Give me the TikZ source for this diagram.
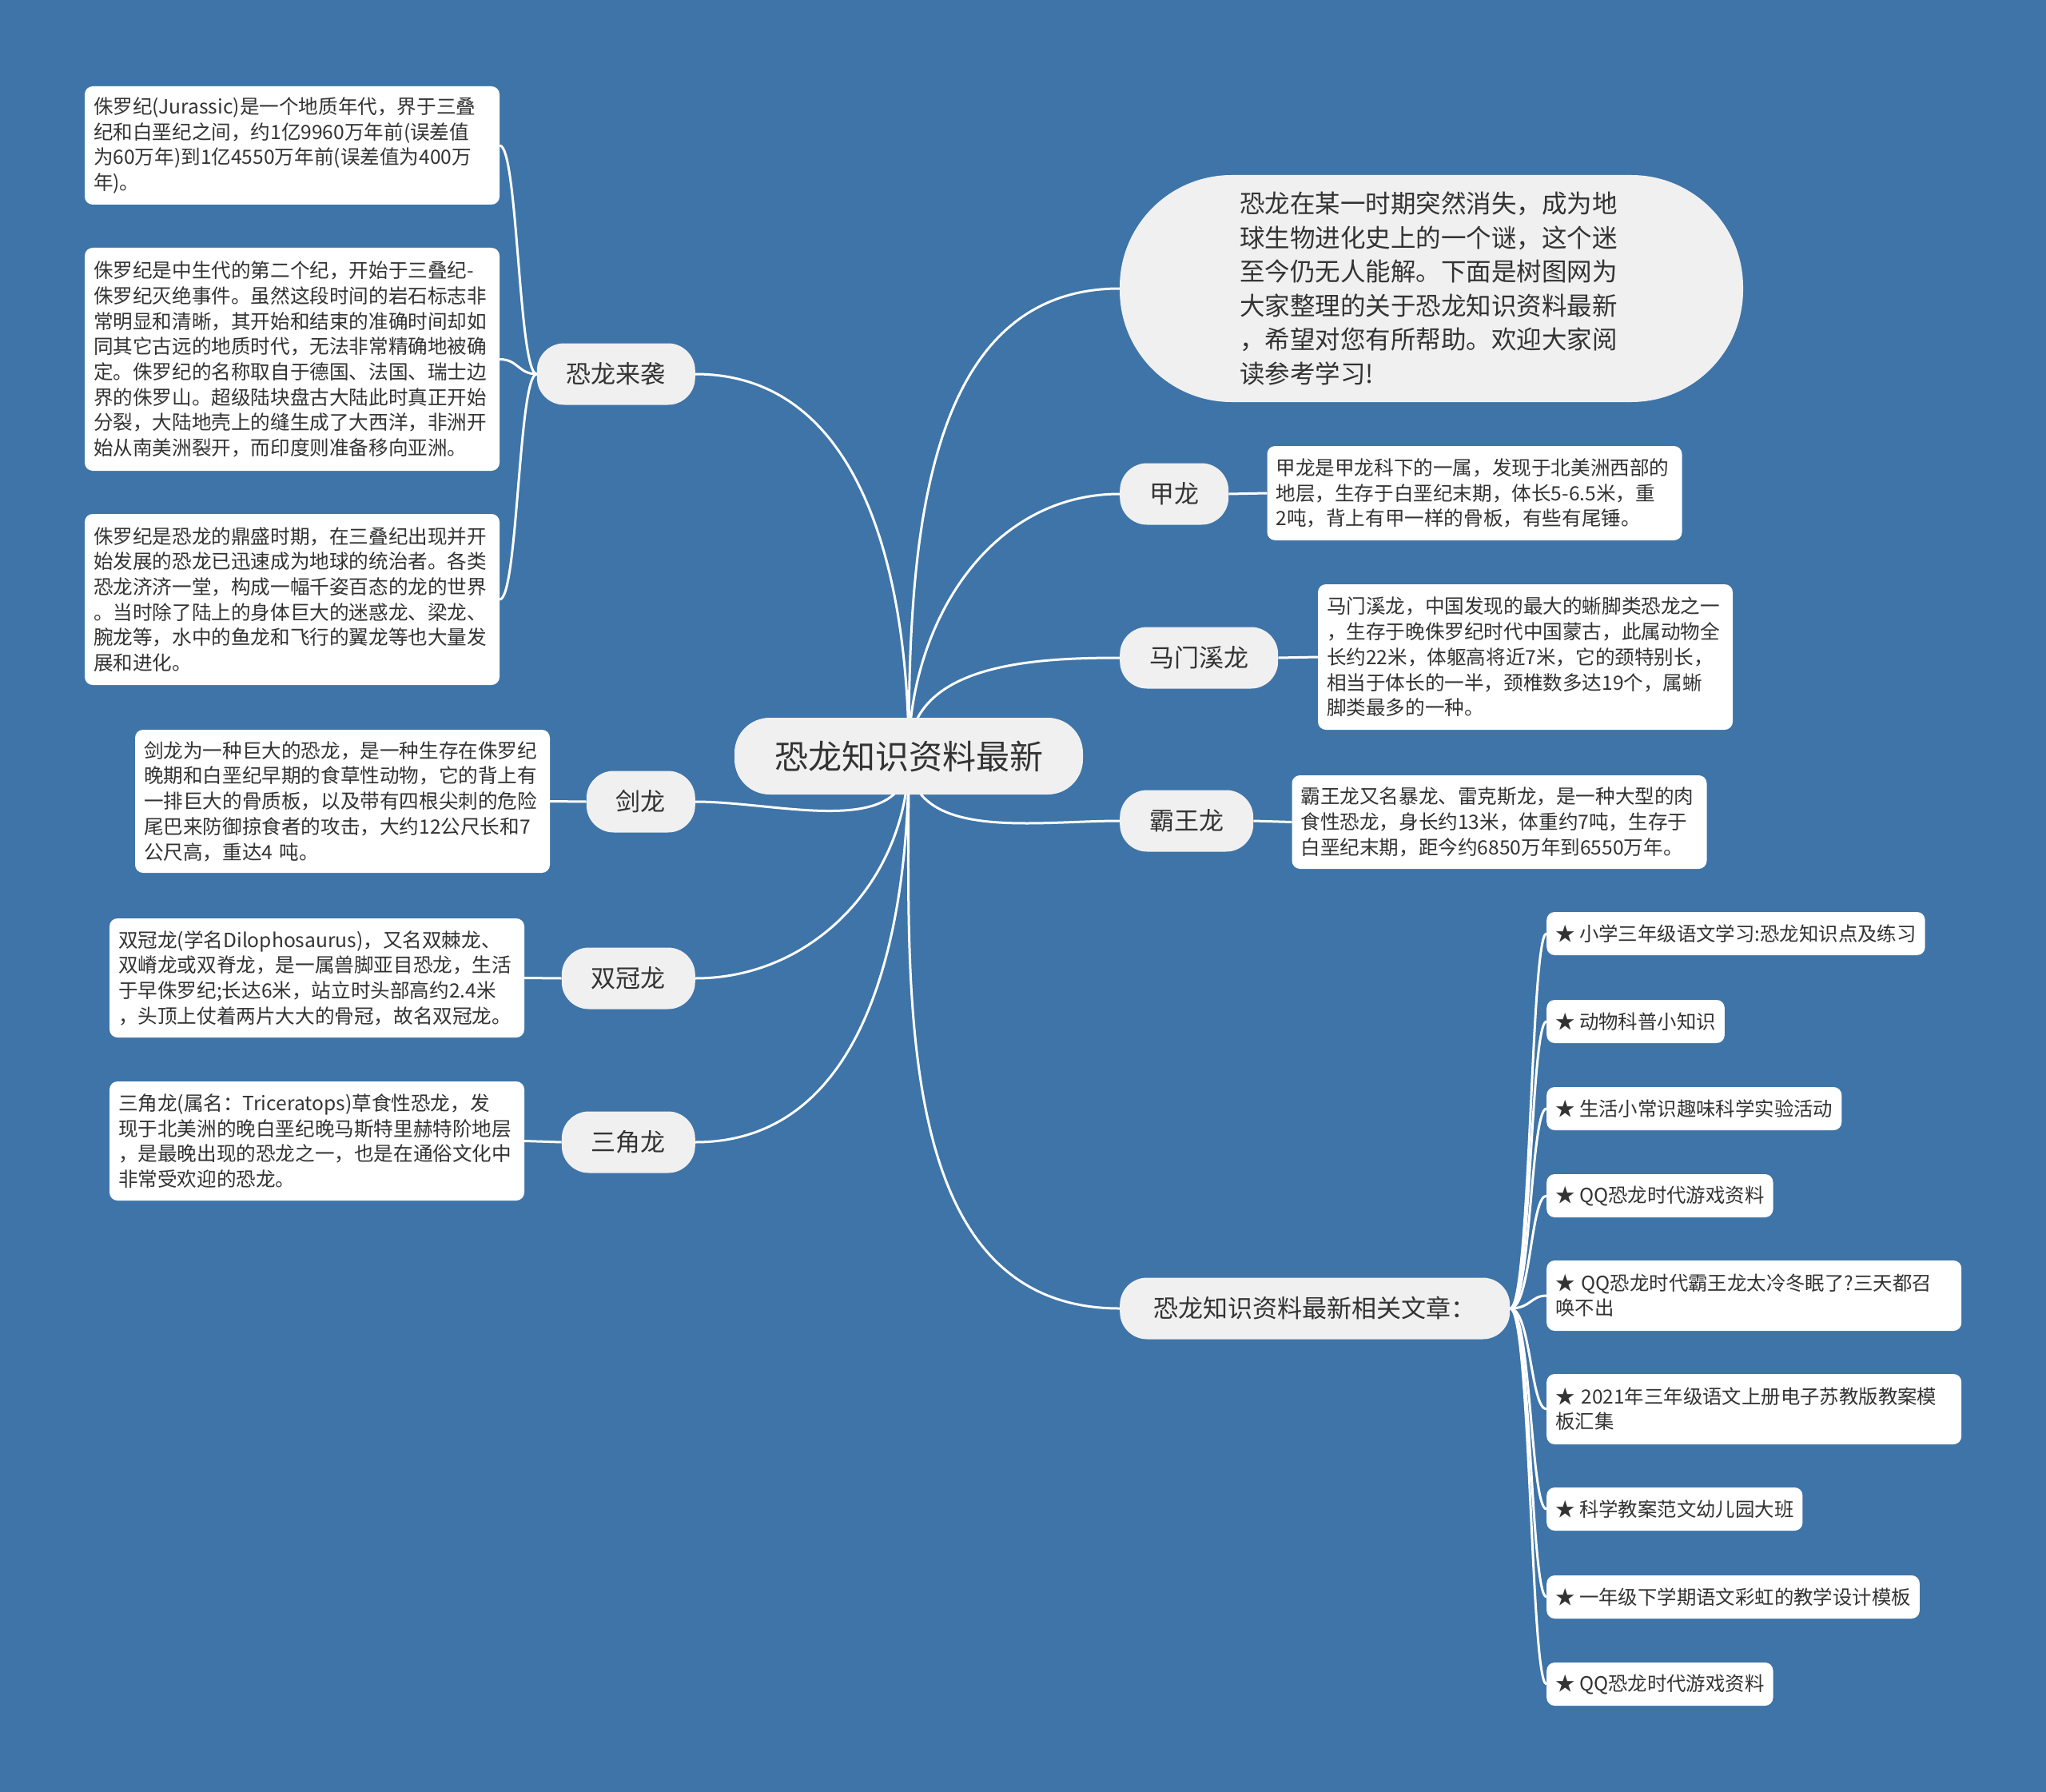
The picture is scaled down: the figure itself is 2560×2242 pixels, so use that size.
\documentclass[tikz,border=0pt]{standalone}
\usepackage{fontspec}
\setmainfont{Noto Sans CJK SC}
\usetikzlibrary{positioning,calc}
\definecolor{bgblue}{HTML}{3E74A7}
\definecolor{pillgray}{HTML}{F0F0F0}
\definecolor{inkgray}{HTML}{333333}
\pgfdeclarelayer{bg}
\pgfdeclarelayer{edges}
\pgfsetlayers{bg,edges,main}

\begin{document}
\begin{tikzpicture}[x=1pt, y=-1pt,
    root/.style={fill=pillgray, rounded corners=44pt, minimum width=436pt, minimum height=96pt,
                 text=inkgray, font=\fontsize{42}{50}\selectfont},
    topic/.style={fill=pillgray, rounded corners=34pt, minimum height=77pt, inner xsep=37pt,
                  inner ysep=0pt, text=inkgray, font=\fontsize{31}{40}\selectfont},
    leaf/.style={fill=white, rounded corners=10pt, text width=497pt, inner xsep=11pt, inner ysep=0pt,
                 align=left, text=inkgray, font=\fontsize{24.6}{31.7}\selectfont},
    article/.style={fill=white, rounded corners=10pt, inner xsep=11pt, inner ysep=0pt, minimum height=54pt,
                    anchor=west, align=left, text=inkgray, font=\fontsize{24.4}{31}\selectfont},
    link/.style={draw=white, line width=3pt}
  ]

% --- canvas ---
\begin{pgfonlayer}{bg}
  \fill[bgblue] (0,0) rectangle (2560,2242);
\end{pgfonlayer}
\useasboundingbox (0,0) rectangle (2560,2242);

% --- centre and main topics ---
\node[root] (root) at (1137,946) {恐龙知识资料最新};

\node[fill=pillgray, rounded corners=140pt, minimum width=780pt, minimum height=284pt,
      text width=480pt, align=left, text=inkgray, font=\fontsize{31.5}{42.5}\selectfont]
      (intro) at (1791,361) {恐龙在某一时期突然消失，成为地\\
球生物进化史上的一个谜，这个迷\\
至今仍无人能解。下面是树图网为\\
大家整理的关于恐龙知识资料最新\\
，希望对您有所帮助。欢迎大家阅\\
读参考学习!};

\node[topic, anchor=east] (attack)     at (870,468)  {恐龙来袭};
\node[topic, anchor=east] (jianlong)   at (870,1003) {剑龙};
\node[topic, anchor=east] (shuangguan) at (870,1224) {双冠龙};
\node[topic, anchor=east] (sanjiao)    at (870,1429) {三角龙};
\node[topic, anchor=west] (jialong)    at (1401,618) {甲龙};
\node[topic, anchor=west] (mamenxi)    at (1401,823) {马门溪龙};
\node[topic, anchor=west] (bawang)     at (1401,1027) {霸王龙};
\node[topic, anchor=west, minimum width=488pt] (related) at (1401,1637) {恐龙知识资料最新相关文章：};

% --- left text boxes ---
\node[leaf, minimum height=148pt] (jura1) at (365.5,182) {侏罗纪(Jurassic)是一个地质年代，界于三叠\\
纪和白垩纪之间，约1亿9960万年前(误差值\\
为60万年)到1亿4550万年前(误差值为400万\\
年)。};
\node[leaf, minimum height=279pt] (jura2) at (365.5,449.5) {侏罗纪是中生代的第二个纪，开始于三叠纪-\\
侏罗纪灭绝事件。虽然这段时间的岩石标志非\\
常明显和清晰，其开始和结束的准确时间却如\\
同其它古远的地质时代，无法非常精确地被确\\
定。侏罗纪的名称取自于德国、法国、瑞士边\\
界的侏罗山。超级陆块盘古大陆此时真正开始\\
分裂，大陆地壳上的缝生成了大西洋，非洲开\\
始从南美洲裂开，而印度则准备移向亚洲。};
\node[leaf, minimum height=214pt] (jura3) at (365.5,750) {侏罗纪是恐龙的鼎盛时期，在三叠纪出现并开\\
始发展的恐龙已迅速成为地球的统治者。各类\\
恐龙济济一堂，构成一幅千姿百态的龙的世界\\
。当时除了陆上的身体巨大的迷惑龙、梁龙、\\
腕龙等，水中的鱼龙和飞行的翼龙等也大量发\\
展和进化。};
\node[leaf, minimum height=179pt] (jianlongtxt) at (428.5,1002.5) {剑龙为一种巨大的恐龙，是一种生存在侏罗纪\\
晚期和白垩纪早期的食草性动物，它的背上有\\
一排巨大的骨质板，以及带有四根尖刺的危险\\
尾巴来防御掠食者的攻击，大约12公尺长和7\\
公尺高，重达4 吨。};
\node[leaf, minimum height=149pt] (shuangguantxt) at (396.5,1223.5) {双冠龙(学名Dilophosaurus)，又名双棘龙、\\
双嵴龙或双脊龙，是一属兽脚亚目恐龙，生活\\
于早侏罗纪;长达6米，站立时头部高约2.4米\\
，头顶上仗着两片大大的骨冠，故名双冠龙。};
\node[leaf, minimum height=149pt] (sanjiaotxt) at (396.5,1427.5) {三角龙(属名：Triceratops)草食性恐龙，发\\
现于北美洲的晚白垩纪晚马斯特里赫特阶地层\\
，是最晚出现的恐龙之一，也是在通俗文化中\\
非常受欢迎的恐龙。};

% --- right text boxes ---
\node[leaf, minimum height=118pt] (jialongtxt) at (1845,617) {甲龙是甲龙科下的一属，发现于北美洲西部的\\
地层，生存于白垩纪末期，体长5-6.5米，重\\
2吨，背上有甲一样的骨板，有些有尾锤。};
\node[leaf, minimum height=182pt] (mamenxitxt) at (1908.5,822) {马门溪龙，中国发现的最大的蜥脚类恐龙之一\\
，生存于晚侏罗纪时代中国蒙古，此属动物全\\
长约22米，体躯高将近7米，它的颈特别长，\\
相当于体长的一半，颈椎数多达19个，属蜥\\
脚类最多的一种。};
\node[leaf, minimum height=117pt] (bawangtxt) at (1876,1028.5) {霸王龙又名暴龙、雷克斯龙，是一种大型的肉\\
食性恐龙，身长约13米，体重约7吨，生存于\\
白垩纪末期，距今约6850万年到6550万年。};

% --- related articles ---
\foreach \name/\y/\txt in {art1/1168/{★ 小学三年级语文学习:恐龙知识点及练习},
                           art2/1278/{★ 动物科普小知识},
                           art3/1387/{★ 生活小常识趣味科学实验活动},
                           art4/1496/{★ QQ恐龙时代游戏资料},
                           art7/1888/{★ 科学教案范文幼儿园大班},
                           art8/1998/{★ 一年级下学期语文彩虹的教学设计模板},
                           art9/2107/{★ QQ恐龙时代游戏资料}}
  \node[article] (\name) at (1935,\y) {\txt};
\node[article, text width=497pt, minimum height=88pt] (art5) at (1935,1621) {★ QQ恐龙时代霸王龙太冷冬眠了?三天都召\\唤不出};
\node[article, text width=497pt, minimum height=88pt] (art6) at (1935,1763) {★ 2021年三年级语文上册电子苏教版教案模\\板汇集};

% --- connectors ---
\begin{pgfonlayer}{edges}
  \foreach \n in {intro,jialong,mamenxi}
    \draw[link] (root.center) to[out=90, in=180] (\n.west);
  \foreach \n in {bawang,related}
    \draw[link] (root.center) to[out=270, in=180] (\n.west);
  \draw[link] (root.center) to[out=90, in=0] (attack.east);
  \foreach \n in {jianlong,shuangguan,sanjiao}
    \draw[link] (root.center) to[out=270, in=0] (\n.east);

  \foreach \n in {jialong,mamenxi,bawang}
    \draw[link] (\n.east) -- (\n txt.west);
  \foreach \n in {jianlong,shuangguan,sanjiao}
    \draw[link] (\n.west) -- (\n txt.east);

  \foreach \n in {jura1,jura2,jura3}
    \draw[link] (attack.west) .. controls +(-23,0) and ($(\n.east)+(23,0)$) .. (\n.east);
  \foreach \n in {art1,art2,art3,art4,art5,art6,art7,art8,art9}
    \draw[link] (related.east) .. controls +(26,0) and ($(\n.west)+(-20,0)$) .. (\n.west);
\end{pgfonlayer}

\end{tikzpicture}
\end{document}
